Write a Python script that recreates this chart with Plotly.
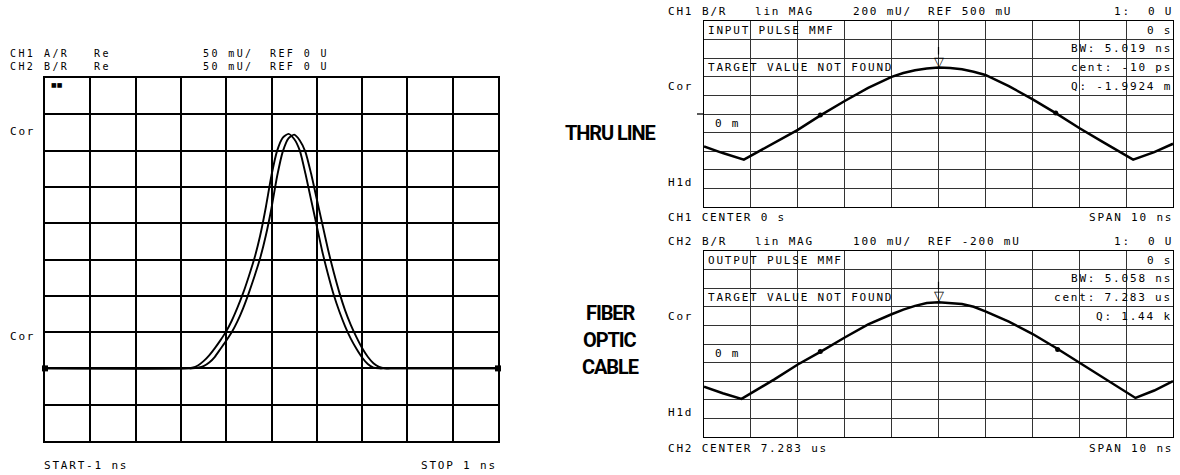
import plotly.graph_objects as go

# ---------------- data ----------------
# Left panel: time-domain pulses, -1 ns .. 1 ns, values in mU
pulse_t_ns = [-1.0, -0.375, -0.35, -0.325, -0.3, -0.275, -0.25, -0.225, -0.2, -0.175, -0.15,
              -0.125, -0.1, -0.075, -0.05, -0.025, 0.0, 0.025, 0.05, 0.075, 0.1, 0.125,
              0.15, 0.175, 0.2, 0.225, 0.25, 0.275, 0.3, 0.325, 0.35, 0.375, 0.4, 0.425,
              0.45, 0.475, 0.5, 0.525, 1.0]
ch1_AR_mU = [0, 0, 1, 4, 10, 18, 28, 39, 51, 66, 84,
             104, 127, 152, 183, 222, 266, 300, 318, 323, 316, 300,
             268, 232, 196, 160, 129, 101, 78, 58, 41, 27, 15, 6,
             1, 0, 0, 0, 0]
ch2_BR_mU = [0, 0, 0, 1, 3, 8, 16, 27, 38, 50, 65,
             83, 104, 127, 152, 183, 221, 265, 299, 317, 322, 314,
             298, 268, 233, 198, 163, 132, 104, 80, 60, 43, 28, 16,
             7, 2, 0, 0, 0]

# Right top panel: THRU LINE, lin MAG (U) vs time (ns)
thru_t_ns = [-5.0, -4.6, -4.15, -3.5, -3.0, -2.5, -2.0, -1.5, -1.0, -0.75, -0.5, -0.25, 0.0,
             0.25, 0.5, 0.75, 1.0, 1.5, 2.0, 2.5, 3.0, 3.5, 4.15, 4.6, 5.0]
thru_mag_U = [0.15, 0.08, 0.01, 0.19, 0.33, 0.49, 0.64, 0.78, 0.90, 0.94, 0.97, 0.99, 1.00,
              0.995, 0.98, 0.955, 0.92, 0.80, 0.66, 0.51, 0.35, 0.20, 0.01, 0.09, 0.18]
thru_marker_t_ns = [-2.52, 2.50]
thru_marker_U = [0.49, 0.51]

# Right bottom panel: FIBER OPTIC CABLE
fiber_t_ns = [-5.0, -4.6, -4.2, -3.5, -3.0, -2.5, -2.0, -1.5, -1.0, -0.75, -0.5, -0.25, 0.0,
              0.25, 0.5, 0.75, 1.0, 1.5, 2.0, 2.5, 3.0, 3.5, 4.2, 4.6, 5.0]
fiber_mag_U = [0.07, 0.035, 0.005, 0.11, 0.19, 0.26, 0.335, 0.405, 0.46, 0.485, 0.505, 0.52, 0.525,
               0.522, 0.515, 0.50, 0.475, 0.42, 0.355, 0.28, 0.20, 0.12, 0.01, 0.05, 0.10]
fiber_marker_t_ns = [-2.52, 2.54]
fiber_marker_U = [0.26, 0.27]

# instrument settings (scales / references)
left_scale_mU, left_ref_mU = 50, 0
thru_scale_U, thru_ref_U = 0.2, 0.5
fiber_scale_U, fiber_ref_U = 0.1, -0.2

# ---------------- layout helpers ----------------
W, H = 1180, 475
def X(px): return px / W
def Y(py): return 1 - py / H

MONO = "DejaVu Sans Mono, Liberation Mono, monospace"
FS, LS, P = 11, 1.8, 8.4   # font size, letter spacing, character pitch (px)
ann = []
def txt(xp, yp, s, anchor="left", size=FS, family=MONO, spacing=LS):
    t = f'<span style="letter-spacing:{spacing}px">{s}</span>' if spacing else s
    ann.append(dict(x=X(xp), y=Y(yp), xref="paper", yref="paper", text=t, showarrow=False,
                    xanchor=anchor, yanchor="middle", borderpad=0,
                    font=dict(family=family, size=size, color="black")))

def row(x0, yp, tokens, size=FS, spacing=LS):
    for col, s in tokens:
        txt(x0 + col * P, yp, s, size=size, spacing=spacing)

fig = go.Figure()

# left traces
for vals in (ch1_AR_mU, ch2_BR_mU):
    fig.add_trace(go.Scatter(x=pulse_t_ns, y=vals, mode="lines",
                             line=dict(color="black", width=1.9, shape="spline", smoothing=0.6),
                             xaxis="x", yaxis="y", showlegend=False))
fig.add_trace(go.Scatter(x=[pulse_t_ns[0], pulse_t_ns[-1]], y=[left_ref_mU, left_ref_mU], mode="markers",
                         marker=dict(symbol="square", size=6, color="black"), cliponaxis=False,
                         xaxis="x", yaxis="y", showlegend=False))

# right top
fig.add_trace(go.Scatter(x=thru_t_ns, y=thru_mag_U, mode="lines", line=dict(color="black", width=2.5),
                         xaxis="x2", yaxis="y2", showlegend=False))
fig.add_trace(go.Scatter(x=thru_marker_t_ns, y=thru_marker_U, mode="markers", marker=dict(size=5, color="black"),
                         xaxis="x2", yaxis="y2", showlegend=False))
# right bottom
fig.add_trace(go.Scatter(x=fiber_t_ns, y=fiber_mag_U, mode="lines", line=dict(color="black", width=2.5),
                         xaxis="x3", yaxis="y3", showlegend=False))
fig.add_trace(go.Scatter(x=fiber_marker_t_ns, y=fiber_marker_U, mode="markers", marker=dict(size=5, color="black"),
                         xaxis="x3", yaxis="y3", showlegend=False))

def axis(domain, rng, dtick, tick0, gw, gc, anchor, lw):
    return dict(domain=domain, range=rng, dtick=dtick, tick0=tick0, showgrid=True, gridwidth=gw, gridcolor=gc,
                zeroline=False, showticklabels=False, ticks="", showline=True, mirror=True,
                linecolor="black", linewidth=lw, anchor=anchor, fixedrange=True)

fig.update_layout(
    width=W, height=H, margin=dict(l=0, r=0, t=0, b=0),
    paper_bgcolor="white", plot_bgcolor="white",
    xaxis=axis([X(45), X(498)], [-1, 1], 0.2, 0, 1.7, "black", "y", 1.9),
    yaxis=axis([Y(441), Y(78)], [left_ref_mU - 2 * left_scale_mU, left_ref_mU + 8 * left_scale_mU],
               left_scale_mU, left_ref_mU, 1.7, "black", "x", 1.9),
    xaxis2=axis([X(704), X(1173)], [-5, 5], 1, 0, 1, "#333", "y2", 1.3),
    yaxis2=axis([Y(207), Y(21)], [thru_ref_U - 5 * thru_scale_U, thru_ref_U + 5 * thru_scale_U],
                thru_scale_U, thru_ref_U, 1, "#333", "x2", 1.3),
    xaxis3=axis([X(704), X(1173)], [-5, 5], 1, 0, 1, "#333", "y3", 1.3),
    yaxis3=axis([Y(437), Y(251)], [fiber_ref_U, fiber_ref_U + 10 * fiber_scale_U],
                fiber_scale_U, fiber_ref_U, 1, "#333", "x3", 1.3),
)

# peak markers (open triangle + stick) on right panels
for xa, ya, tt, vv in (("x2", "y2", thru_t_ns, thru_mag_U), ("x3", "y3", fiber_t_ns, fiber_mag_U)):
    i = vv.index(max(vv))
    ann.append(dict(x=tt[i], y=vv[i], xref=xa, yref=ya, text="▽", showarrow=False, yanchor="bottom",
                    yshift=-3, font=dict(family="DejaVu Sans", size=13, color="black")))
    ann.append(dict(x=tt[i], y=vv[i], xref=xa, yref=ya, text="", showarrow=True, arrowhead=0, arrowwidth=1.2,
                    ax=0, ay=-9, yshift=13, arrowcolor="black"))

# reference position tick at left of top-right panel
fig.add_shape(type="line", xref="paper", yref="y2", x0=X(697), x1=X(704), y0=thru_ref_U, y1=thru_ref_U,
              line=dict(color="black", width=1.3))

# ---------------- left panel texts ----------------
row(9, 53.5, [(0, "CH1"), (4, "A/R"), (10, "Re"), (23, "50 mU/"), (31, "REF 0 U")], size=10, spacing=2.4)
row(9, 66.5, [(0, "CH2"), (4, "B/R"), (10, "Re"), (23, "50 mU/"), (31, "REF 0 U")], size=10, spacing=2.4)
txt(50, 84, "■■", size=6, family="DejaVu Sans", spacing=0)
txt(9, 131, "Cor"); txt(9, 336, "Cor")
txt(43, 465, "START-1 ns"); txt(498, 465, "STOP 1 ns", anchor="right")

# middle labels
LBL = "Roboto, Liberation Sans, sans-serif"
for yy, s in ((133, "THRU LINE"), (313, "FIBER"), (340, "OPTIC"), (367, "CABLE")):
    ann.append(dict(x=X(610), y=Y(yy), xref="paper", yref="paper",
                    text=f'<span style="letter-spacing:-1.1px"><b>{s}</b></span>', showarrow=False,
                    xanchor="center", yanchor="middle", font=dict(family=LBL, size=20, color="black")))

# ---------------- right panels texts ----------------
def right_panel(off, ch, scale, ref, title, bw, cent, q, center):
    row(667, 11 + off, [(0, ch), (4, "B/R"), (22, scale), (31, ref)])
    txt(754, 11 + off, "lin MAG")
    row(1113, 11 + off, [(0, "1:"), (4, "0 U")])
    r = lambda k: 21 + off + 18.6 * (k + 0.5)
    txt(707, r(0), title); txt(1173, r(0), "0 s", anchor="right")
    txt(1173, r(1), bw, anchor="right")
    txt(707, r(2), "TARGET VALUE NOT FOUND"); txt(1173, r(2), cent, anchor="right")
    txt(1173, r(3), q, anchor="right")
    txt(714, r(5), "0 m")
    txt(667, 86 + off, "Cor"); txt(667, 182 + off, "H1d")
    txt(667, 218 + off, center); txt(1174, 218 + off, "SPAN 10 ns", anchor="right")

right_panel(0, "CH1", "200 mU/", "REF 500 mU", "INPUT PULSE MMF", "BW: 5.019 ns", "cent: -10 ps",
            "Q: -1.9924 m", "CH1 CENTER 0 s")
right_panel(230, "CH2", "100 mU/", "REF -200 mU", "OUTPUT PULSE MMF", "BW: 5.058 ns", "cent: 7.283 us",
            "Q: 1.44 k", "CH2 CENTER 7.283 us")

fig.update_layout(annotations=ann)
fig.write_html("out.html", config={"displayModeBar": False},
               post_script="document.body.style.margin='0';document.body.style.overflow='hidden';")
